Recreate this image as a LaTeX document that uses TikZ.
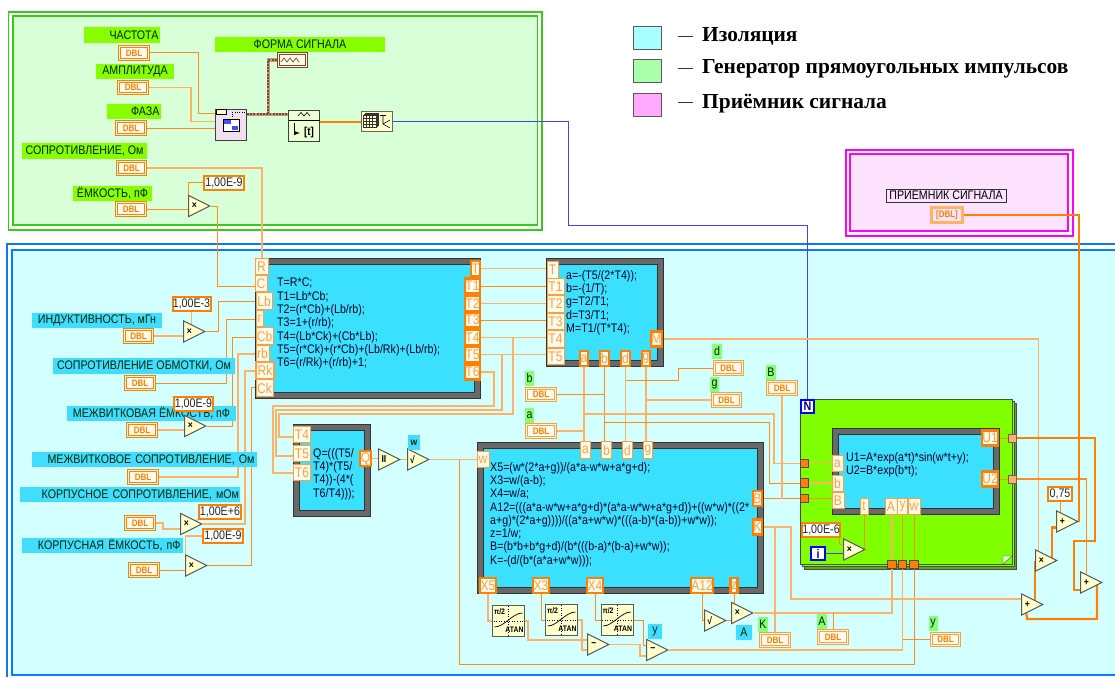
\documentclass[tikz,border=0pt]{standalone}
\usepackage{fontspec}
\setmainfont[FakeStretch=0.86]{Liberation Sans}
\newfontfamily\legfont{Liberation Serif}
\usetikzlibrary{backgrounds,calc,shapes.geometric}
\definecolor{wireor}{RGB}{255, 140, 30}
\definecolor{wirepale}{RGB}{255, 178, 102}
\definecolor{thickor}{RGB}{255, 128, 0}
\definecolor{bluepanel}{RGB}{212, 255, 255}
\definecolor{blueline}{RGB}{10, 120, 255}
\definecolor{greenpanel}{RGB}{216, 255, 216}
\definecolor{greenline}{RGB}{50, 205, 20}
\definecolor{pinkpanel}{RGB}{253, 226, 253}
\definecolor{pinkline}{RGB}{255, 0, 255}
\definecolor{lblgreen}{RGB}{136, 255, 0}
\definecolor{lblmint}{RGB}{136, 255, 119}
\definecolor{lblblue}{RGB}{64, 221, 255}
\definecolor{formblue}{RGB}{60, 224, 255}
\definecolor{framegrey}{RGB}{105, 105, 105}
\definecolor{loopgreen}{RGB}{128, 255, 0}
\definecolor{paleyel}{RGB}{255, 255, 204}
\definecolor{termfill}{RGB}{255, 250, 235}
\definecolor{wirebrown}{RGB}{130, 70, 35}
\definecolor{legiso}{RGB}{168, 255, 255}
\definecolor{leggen}{RGB}{170, 255, 170}
\definecolor{legrcv}{RGB}{255, 170, 255}
\newcommand{\lblsize}{\fontsize{12.4}{13.3}\selectfont}
\tikzset{
  wire/.style={draw=wireor, line width=1pt},
  wirel/.style={draw=wirepale, line width=1.2pt},
  wireb/.style={draw=thickor, line width=2.2pt},
  wireblue/.style={draw=blue!75!white, line width=1pt},
  wirebr/.style={preaction={draw=wirebrown!55!white, line width=3pt}, draw=wirebrown, line width=2pt, dash pattern=on 2pt off 1.2pt},
  lbl/.style={inner sep=0pt, minimum height=15.5pt, font=\lblsize, text=black!85!green},
  lbg/.style={lbl, fill=lblgreen},
  lbm/.style={lbl, fill=lblmint},
  lbb/.style={lbl, fill=lblblue},
  dbl/.style={draw=thickor, line width=1.2pt, double=termfill, double distance=1pt, fill=termfill,
    inner sep=0pt, minimum width=28.5pt, minimum height=12.5pt, text=thickor, font=\bfseries\fontsize{9.3}{9.3}\selectfont},
  dbll/.style={dbl, draw=wirepale!60!thickor, line width=0.9pt, double distance=1.4pt},
  const/.style={draw=thickor, line width=2pt, fill=white, inner sep=0pt, minimum height=14pt, font=\lblsize, text=black!85},
  term/.style={draw=wirepale!60!thickor, line width=1pt, fill=termfill, inner sep=0pt, minimum height=16.5pt,
    text=thickor!75!white, font=\fontsize{14}{14}\selectfont},
  termo/.style={term, draw=thickor, line width=2.2pt, minimum height=15pt},
  formula/.style={draw=black!80, line width=0.7pt, double=framegrey, double distance=5.5pt, fill=formblue, inner sep=0pt},
  ftext/.style={inner sep=0pt, anchor=north west, align=left, font=\lblsize, text=black!85!blue},
  tri/.style={draw=black!65, line width=1pt, fill=paleyel, isosceles triangle, isosceles triangle stretches,
    shape border rotate=0, minimum width=21pt, minimum height=21pt, inner sep=0pt, anchor=apex,
    font=\bfseries\fontsize{10}{10}\selectfont},
  tunnel/.style={draw=black!70, line width=0.6pt, fill=thickor, inner sep=0pt, minimum size=8.5pt},
  tunout/.style={draw=black!60, line width=0.8pt, fill=wirepale, inner sep=0pt, minimum size=8pt},
  loopt/.style={draw=blue, line width=1.6pt, fill=white, inner sep=0pt, minimum size=13.5pt, text=blue!60!black,
    font=\bfseries\fontsize{12.5}{12.5}\selectfont},
  atan/.style={draw=black!65, line width=1pt, fill=paleyel, inner sep=0pt, minimum width=32pt, minimum height=31pt},
  legsq/.style={draw=black!65, line width=1pt, inner sep=0pt, minimum width=28pt, minimum height=23pt},
  legt/.style={inner sep=0pt, anchor=west, font=\legfont\bfseries\fontsize{21.4}{21.4}\selectfont}
}
\begin{document}
\begin{tikzpicture}[x=1pt, y=-1pt]
  \useasboundingbox (0,0) rectangle (1115,677);
  % panels
  \begin{pgfonlayer}{background}
    \fill[white] (0,0) rectangle (1115,677);
    \draw[greenline, line width=1.3pt] (8.5,12) rectangle (542,230);
    \draw[greenline, line width=1.3pt, fill=greenpanel] (13,16) rectangle (537.5,225);
    \draw[pinkline, line width=1.3pt] (846,150) rectangle (1073,236);
    \draw[pinkline, line width=1.3pt, fill=pinkpanel] (850,154) rectangle (1068,231);
    \fill[bluepanel] (12,250) rectangle (1115,675);
    \draw[blueline, line width=1.3pt] (1115,244) -- (7,244) -- (7,677);
    \draw[blueline, line width=1.3pt] (1115,250) -- (12,250) -- (12,675) -- (1115,675);
    \draw[black!70, fill=loopgreen!70!black] (804,403) rectangle (1016,569);
    \draw[black!70, fill=loopgreen] (802,401) rectangle (1014,566.5);
    \draw[black!70, fill=loopgreen] (800,399) rectangle (1012,564);
    \draw[black!70, fill=greenpanel] (1003,564) -- (1012,556) -- (1003,556) -- cycle;
  \end{pgfonlayer}

  % legend
  \node[legsq, fill=legiso] (sqIso) at (647.5,38) {};
  \node[legsq, fill=leggen] (sqGen) at (647.5,71) {};
  \node[legsq, fill=legrcv] (sqRcv) at (647.5,104.5) {};
  \draw[black!80, line width=1pt] (sqIso.east -| 678,0) ++(0,-1) -- ++(15,0);
  \draw[black!80, line width=1pt] (sqGen.east -| 678,0) ++(0,-3) -- ++(15,0);
  \draw[black!80, line width=1pt] (sqRcv.east -| 678,0) ++(0,-2) -- ++(15,0);
  \node[legt] (ltIso) at (702,36) {Изоляция};
  \node[legt] (ltGen) at (702,69) {Генератор прямоугольных импульсов};
  \node[legt] (ltRcv) at (702,104) {Приёмник сигнала};

  % generator
  \node[lbg, minimum width=76pt, text width=73pt, align=right] (lgFreq) at (122,35) {ЧАСТОТА};
  \node[dbl] (dFreq) at (134,53) {DBL};
  \node[lbg, minimum width=78pt] (lgAmp) at (135,71.5) {АМПЛИТУДА};
  \node[dbl] (dAmp) at (133,87.5) {DBL};
  \node[lbg, minimum width=53.5pt, text width=51pt, align=right] (lgPh) at (134,111.5) {ФАЗА};
  \node[dbl] (dPhase) at (131,128) {DBL};
  \node[lbg, minimum width=125pt] (lgRes) at (84.5,151) {СОПРОТИВЛЕНИЕ, Ом};
  \node[dbl] (dRes) at (131.5,168) {DBL};
  \node[lbg, minimum width=79pt] (lgCap) at (112.5,193.5) {ЁМКОСТЬ, пФ};
  \node[dbl] (dCap) at (131,209) {DBL};
  \node[const, minimum width=40pt] (kC1) at (224,182.5) {1,00E-9};
  \node[tri] (trC) at (211,206) {×};
  \node[lbg, minimum width=170pt] (lgForm) at (300,44.5) {ФОРМА СИГНАЛА};
  \node[draw=wirebrown, line width=1pt, double=termfill, double distance=1pt, fill=termfill, inner sep=0pt,
    minimum width=28pt, minimum height=12.5pt] (wfm) at (292,60) {};
  \node[draw=black!75, line width=1pt, fill=violet!12!white, inner sep=0pt, minimum width=31pt, minimum height=31pt] (gen) at (231,125) {};
  \node[draw=black!75, line width=1pt, fill=greenpanel!50!paleyel, inner sep=0pt, minimum width=31pt, minimum height=31pt] (wa) at (304,126) {};
  \node[draw=black!60, line width=1pt, fill=paleyel, inner sep=0pt, minimum width=31pt, minimum height=20pt] (arr) at (377,121.5) {};
  % icons of the generator
  \draw[wirebrown, line width=0.7pt] (281,62) -- (284,58) -- (287,62) -- (290,58) -- (293,62) -- (296,58) -- (299,62);
  \draw[black, fill=paleyel, line width=0.7pt] (216,109.5) rectangle (226,114);
  \draw[black, dotted] (232,119) -- (232,112) -- (245,112);
  \draw[black, fill=white, line width=0.7pt] (223,119) rectangle (239,131);
  \fill[blue!70] (224,120) rectangle (231,124);
  \fill[blue!70] (232,126) rectangle (238,130);
  \draw[black, line width=0.6pt] (288.5,120) -- (319.5,120);
  \draw[black, line width=0.6pt] (298,116) -- (301,112.5) -- (304,116) -- (307,112.5) -- (310,116);
  \draw[black, line width=1pt, -latex] (294,123) -- (294,133) -- (300,133);
  \node[inner sep=0pt, font=\bfseries\fontsize{11.5}{11.5}\selectfont] (waT) at (309,133) {[t]};
  \draw[black!80, fill=paleyel, line width=0.5pt] (365,113) rectangle (378,125);
  \draw[black!80, fill=paleyel, line width=0.5pt] (364,114) rectangle (377,126);
  \draw[black!80, fill=paleyel, line width=0.5pt] (363,115) rectangle (376,127);
  \foreach \gx in {366,369,372} \draw[black!80, line width=0.4pt] (\gx,115) -- (\gx,127);
  \foreach \gy in {118,121,124} \draw[black!80, line width=0.4pt] (363,\gy) -- (376,\gy);
  \draw[black, line width=0.6pt] (383,115) -- (383,124) -- (390,128);
  \draw[black, line width=0.6pt] (380,115) -- (386,115);
  \draw[black, line width=0.6pt] (383,124) -- (390,120);

  % left side
  \node[lbb, minimum width=130pt] (lbInd) at (97,320.5) {ИНДУКТИВНОСТЬ, мГн};
  \node[dbl] (dInd) at (138.5,336) {DBL};
  \node[const, minimum width=38pt] (kLb) at (191.5,303.5) {1,00E-3};
  \node[tri] (trLb) at (206,331.5) {×};
  \node[lbb, minimum width=182pt] (lbWind) at (144,366) {СОПРОТИВЛЕНИЕ ОБМОТКИ, Ом};
  \node[dbl] (dWind) at (140,383) {DBL};
  \node[lbb, minimum width=169pt] (lbTurn) at (151.5,413.5) {МЕЖВИТКОВАЯ ЁМКОСТЬ, пФ};
  \node[const, minimum width=39pt] (kCb) at (193.5,404) {1,00E-9};
  \node[dbl] (dTurn) at (142,430) {DBL};
  \node[tri] (trCb) at (207,426) {×};
  \node[lbb, minimum width=225pt, text width=220pt, align=right] (lbTR) at (144.5,459.5) {МЕЖВИТКОВОЕ СОПРОТИВЛЕНИЕ, Ом};
  \node[dbl] (dTR) at (143,477) {DBL};
  \node[lbb, minimum width=220pt, text width=218pt, align=right] (lbKR) at (130,494.5) {КОРПУСНОЕ СОПРОТИВЛЕНИЕ, мОм};
  \node[const, minimum width=42pt] (kRk) at (220,511.5) {1,00E+6};
  \node[dbl] (dKR) at (140,523) {DBL};
  \node[tri] (trRk) at (203,524) {×};
  \node[lbb, minimum width=161pt, text width=156pt, align=right] (lbKC) at (102.5,545.5) {КОРПУСНАЯ ЁМКОСТЬ, пФ};
  \node[const, minimum width=40pt] (kCk) at (223,536) {1,00E-9};
  \node[dbl] (dKC) at (144,570) {DBL};
  \node[tri] (trCk) at (208,565.5) {×};

  % formula T
  \node[formula, minimum width=219pt, minimum height=134pt] (fT) at (368,328.5) {};
  \node[ftext] (txT) at (277,278) {T=R*C;\\T1=Lb*Cb;\\T2=(r*Cb)+(Lb/rb);\\T3=1+(r/rb);\\T4=(Lb*Ck)+(Cb*Lb);\\T5=(r*Ck)+(r*Cb)+(Lb/Rk)+(Lb/rb);\\T6=(r/Rk)+(r/rb)+1;};
  \node[term, minimum width=13pt] (iR) at (261.5,266.5) {R};
  \node[term, minimum width=12pt] (iC) at (261,283.5) {C};
  \node[term, minimum width=16pt] (iLb) at (264,301) {Lb};
  \node[term, minimum width=7pt] (ir) at (259.5,318.5) {r};
  \node[term, minimum width=17pt] (iCb) at (264.5,336) {Cb};
  \node[term, minimum width=13pt] (irb) at (262.5,353.5) {rb};
  \node[term, minimum width=18pt, line width=1.6pt] (iRk) at (265,370.5) {Rk};
  \node[term, minimum width=17pt] (iCk) at (264.5,388) {Ck};
  \node[termo, minimum width=9pt] (oT) at (475.5,268.5) {T};
  \node[termo, minimum width=15pt] (oT1) at (472.5,286) {T1};
  \node[termo, minimum width=15pt] (oT2) at (472.5,303.5) {T2};
  \node[termo, minimum width=15pt] (oT3) at (472.5,320) {T3};
  \node[termo, minimum width=15pt] (oT4) at (472.5,337.5) {T4};
  \node[termo, minimum width=15pt] (oT5) at (472.5,354.5) {T5};
  \node[termo, minimum width=15pt] (oT6) at (472.5,372) {T6};

  % formula a b g d M
  \node[formula, minimum width=111pt, minimum height=102pt] (fA) at (605,312.5) {};
  \node[ftext] (txA) at (566,270) {a=-(T5/(2*T4));\\b=-(1/T);\\g=T2/T1;\\d=T3/T1;\\M=T1/(T*T4);};
  \node[term, minimum width=11pt] (iT) at (552.5,270) {T};
  \node[term, minimum width=17pt] (iT1) at (555.5,286.5) {T1};
  \node[term, minimum width=17pt] (iT2) at (555.5,304) {T2};
  \node[term, minimum width=17pt] (iT3) at (555.5,321.5) {T3};
  \node[term, minimum width=17pt] (iT4) at (555.5,339) {T4};
  \node[term, minimum width=17pt] (iT5) at (555.5,356.5) {T5};
  \node[termo, minimum width=11pt] (oM) at (656.5,339) {M};
  \node[termo, minimum width=8.5pt] (oa) at (584,358.5) {a};
  \node[termo, minimum width=8.5pt] (ob) at (604.5,358.5) {b};
  \node[termo, minimum width=8.5pt] (od) at (625.5,358.5) {d};
  \node[termo, minimum width=8.5pt] (og) at (646,358.5) {g};

  % formula Q
  \node[formula, minimum width=71pt, minimum height=86pt] (fQ) at (332,470.5) {};
  \node[ftext] (txQ) at (313,448) {Q=(((T5/\\T4)*(T5/\\T4))-(4*(\\T6/T4)));};
  \node[term, minimum width=17pt] (qT4) at (302,434.5) {T4};
  \node[term, minimum width=17pt] (qT5) at (302,453.5) {T5};
  \node[term, minimum width=17pt] (qT6) at (302,472.5) {T6};
  \node[termo, minimum width=11pt] (oQ) at (365.5,458.5) {Q};
  \node[tri] (trPar) at (401,459.5) {II};
  \node[tri] (trRt) at (430,459.5) {√};
  \node[lbb, minimum width=12pt, font=\bfseries\fontsize{10}{10}\selectfont] (lbw) at (414,442.5) {w};

  % formula X
  \node[formula, minimum width=280pt, minimum height=145pt] (fX) at (620.5,518) {};
  \node[ftext] (txX) at (490,462) {X5=(w*(2*a+g))/(a*a-w*w+a*g+d);\\X3=w/(a-b);\\X4=w/a;\\A12=(((a*a-w*w+a*g+d)*(a*a-w*w+a*g+d))+((w*w)*((2*\\a+g)*(2*a+g))))/((a*a+w*w)*(((a-b)*(a-b))+w*w));\\z=1/w;\\B=(b*b+b*g+d)/(b*(((b-a)*(b-a)+w*w));\\K=-(d/(b*(a*a+w*w)));};
  \node[term, minimum width=12pt] (iw) at (483,459.5) {w};
  \node[term, minimum width=10pt] (ia) at (585.5,450) {a};
  \node[term, minimum width=10pt] (ib) at (606.5,450) {b};
  \node[term, minimum width=10pt] (id) at (627.5,450) {d};
  \node[term, minimum width=9pt] (ig) at (648,450) {g};
  \node[termo, minimum width=9pt] (oB) at (757.5,498.5) {B};
  \node[termo, minimum width=9pt] (oK) at (757.5,527) {K};
  \node[termo, minimum width=16pt] (oX5) at (488,585.5) {X5};
  \node[termo, minimum width=16pt] (oX3) at (541,585.5) {X3};
  \node[termo, minimum width=16pt] (oX4) at (595,585.5) {X4};
  \node[termo, minimum width=22pt] (oA12) at (702,585.5) {A12};
  \node[termo, minimum width=7pt] (oz) at (734,585.5) {z};

  % constants and indicators around the formulas
  \node[lbm, minimum width=9pt] (lgb) at (529.5,378.5) {b};
  \node[dbll] (db) at (541,394.5) {DBL};
  \node[lbm, minimum width=9pt] (lga) at (529.5,415.5) {a};
  \node[dbll] (da) at (541,431) {DBL};
  \node[lbm, minimum width=10pt] (lgd) at (717,351.5) {d};
  \node[dbll] (dd) at (728.5,368) {DBL};
  \node[lbm, minimum width=9pt] (lgg) at (714.5,384.5) {g};
  \node[dbll] (dg) at (726.5,400) {DBL};
  \node[lbm, minimum width=10pt] (lgB) at (771,372.5) {B};
  \node[dbll] (dB) at (782,388) {DBL};
  \node[lbm, minimum width=10pt] (lgK) at (763,624.5) {K};
  \node[dbll] (dK) at (775,640) {DBL};
  \node[lbm, minimum width=10pt] (lgA) at (822,621.5) {A};
  \node[dbll] (dA) at (833,637) {DBL};
  \node[lbm, minimum width=9pt] (lgY) at (933,623.5) {y};
  \node[dbll] (dy) at (945.5,639.5) {DBL};
  \node[lbb, minimum width=14pt] (lby) at (655,631.5) {y};
  \node[lbb, minimum width=16pt] (lbA) at (744,632.5) {A};

  % bottom blocks
  \foreach \n/\ax/\ay in {at1/508.5/621, at2/561.5/620, at3/617/620}{
    \node[atan] (\n) at (\ax,\ay) {};
    \begin{scope}[shift={(\ax,\ay)}]
      \draw[black, dotted, line width=0.6pt] (-15,0) -- (15,0);
      \draw[black, dotted, line width=0.6pt] (0,-15) -- (0,15);
      \draw[black, line width=0.7pt] (-14,6) .. controls (-4,6) and (4,-8) .. (14,-8);
      \node[inner sep=0pt, font=\bfseries\fontsize{8}{8}\selectfont] at (-9,-9) {π/2};
      \node[inner sep=0pt, font=\bfseries\fontsize{8}{8}\selectfont] at (6,9) {ATAN};
    \end{scope}
  }
  \node[tri] (trMinA) at (610,644.5) {−};
  \node[tri] (trMinB) at (669,650) {−};
  \node[tri] (trSq) at (727,620.5) {√};
  \node[tri] (trZ) at (754,613) {×};

  % loop
  \node[loopt] (tN) at (807.5,406.5) {N};
  \node[loopt] (tI) at (818,553.5) {i};
  \node[const, minimum width=38pt] (kT) at (821,530) {1,00E-6};
  \node[tri] (trT) at (866,549.5) {×};
  \node[formula, minimum width=161pt, minimum height=80pt] (fU) at (916,471.5) {};
  \node[ftext] (txU) at (846,452) {U1=A*exp(a*t)*sin(w*t+y);\\U2=B*exp(b*t);};
  \node[term, minimum width=11pt] (ua) at (837.5,463.5) {a};
  \node[term, minimum width=11pt] (ub) at (837.5,483.5) {b};
  \node[term, minimum width=12pt] (uB) at (838,500.5) {B};
  \node[term, minimum width=8pt] (ut) at (864,506.5) {t};
  \node[term, minimum width=12pt] (uA) at (891,506.5) {A};
  \node[term, minimum width=10pt] (uy) at (902.5,506.5) {y};
  \node[term, minimum width=12pt] (uw) at (914,506.5) {w};
  \node[termo, minimum width=16pt] (oU1) at (990,438) {U1};
  \node[termo, minimum width=16pt] (oU2) at (990,479) {U2};
  \node[tunnel] (tunIa) at (804.5,463.5) {};
  \node[tunnel] (tunIb) at (804.5,483) {};
  \node[tunnel] (tunIB) at (804.5,498.5) {};
  \node[tunnel] (tunA) at (892,564.5) {};
  \node[tunnel] (tunY) at (902.5,564.5) {};
  \node[tunnel] (tunW) at (914,564.5) {};
  \node[tunout] (tunU1) at (1012,438) {};
  \node[tunout] (tunU2) at (1012,479) {};

  % right side
  \node[const, minimum width=24pt] (k75) at (1060,494) {0,75};
  \node[tri] (trPl1) at (1044,604.5) {+};
  \node[tri] (trMul) at (1058,560.5) {×};
  \node[tri] (trPl2) at (1079,521.5) {+};
  \node[tri] (trPl3) at (1103,582.5) {+};
  \node[draw=black!80, line width=0.8pt, fill=pinkpanel, inner sep=0pt, minimum width=120pt, minimum height=13pt, font=\lblsize] (lbRcv) at (946,195.5) {ПРИЕМНИК СИГНАЛА};
  \node[dbl, draw=wirepale, line width=1.1pt, double=pinkpanel, double distance=0pt, fill=pinkpanel, minimum width=31pt, minimum height=15pt] (dRcv) at (947,215) {[DBL]};

  \coordinate (jW) at (459,459.5);
  \coordinate (jBr) at (268,114);

  % wires
  \begin{pgfonlayer}{background}
    \draw[wire] (dFreq.east) -| (198,113) -- (gen.west |- 0,113);
    \draw[wirel] (dAmp.east) -| (191,121.5) -- (gen.west |- 0,121.5);
    \draw[wire] (dPhase.east) -- (gen.west |- dPhase.east);
    \draw[wirebr] (gen.east |- 0,114) -- (wa.west |- 0,114);
    \draw[wirebr] (jBr) |- (wfm.west);
    \draw[wireb] (wa.east |- 0,122) -- (arr.west |- 0,122);
    \draw[wireblue] (arr.east |- 0,121) -| (568,225) -| (tN.north);
    \draw[wirel] (dRes.east) -| (iR.north -| 262,0);
    \draw[wire] (dCap.east) -- (trC.west |- dCap.east);
    \draw[wire] (kC1.west) -| (trC.west);
    \draw[wire] (trC.apex) -| (217,286) -- (iC.west |- 0,286);

    \draw[wirel] (dInd.east) -- (trLb.west |- dInd.east);
    \draw[wirel] (kLb) -- (kLb |- trLb);
    \draw[wire] (trLb.apex) -| (218,301) -- (iLb.west);
    \draw[wire] (dWind.east) -| (226,319) -- (ir.west |- 0,319);
    \draw[wirel] (dTurn.east) -- (trCb.west |- dTurn.east);
    \draw[wirel] (kCb) -- (trCb);
    \draw[wire] (trCb.apex) -| (232,337) -- (iCb.west |- 0,337);
    \draw[wirel] (dTR.east) -| (238,354) -- (irb.west |- 0,354);
    \draw[wirel] (dKR.east) -- (163,523) -- (163,529) -- (trRk.west |- 0,529);
    \draw[wirel] (kRk) -- (trRk);
    \draw[wirel] (trRk.apex) -| (245,371) -- (iRk.west |- 0,371);
    \draw[wire] (dKC.east) -- (trCk.west |- dKC.east);
    \draw[wirel] (kCk.west) -| (trCk.west);
    \draw[wire] (trCk.apex) -| (251,387) -- (iCk.west |- 0,387);

    \draw[wirel] (oT.east) -- (iT.west |- oT.east);
    \draw[wire] (oT1.east) -- (iT1.west |- oT1.east);
    \draw[wirel] (oT2.east) -- (iT2.west |- oT2.east);
    \draw[wire] (oT3.east) -- (iT3.west |- oT3.east);
    \draw[wirel] (oT4.east) -- (iT4.west |- oT4.east);
    \draw[wirel] (oT5.east) -- (iT5.west |- oT5.east);
    \draw[wirel] (oT4.east) -| (513,414) -- (279,414) |- (qT4.west |- 0,437);
    \draw[wirel] (oT5.east) -| (502,410) -- (276,410) |- (qT5.west |- 0,456);
    \draw[wirel] (oT6.east) -| (494,406) -- (273,406) |- (qT6.west |- 0,473);
    \draw[wirel] (oQ.east) -- (trPar.west |- oQ.east);
    \draw[wirel] (trPar.apex) -- (trRt.west |- trPar.apex);
    \draw[wirel] (trRt.apex) -- (iw.west);
    \draw[wire] (jW) -- (459,664) -| (tunW.south);

    \draw[wirel] (oa.south) -- (oa.south |- ia.north);
    \draw[wire] (ob.south) -- (ob.south |- ib.north);
    \draw[wirel] (od.south) -- (od.south |- id.north);
    \draw[wirel] (og.south) -- (og.south |- ig.north);
    \draw[wirel] (da.east) -- (oa.south |- da.east);
    \draw[wire] (db.east) -- (ob.south |- db.east);
    \draw[wire] (dd.west) -| (678,380) -- (od.south |- 0,380);
    \draw[wirel] (dg.west) -- (og.south |- dg.west);
    \draw[wirel] (oa.south |- 0,414) -- (774,414) -- (774,463.5) -- (tunIa.west);
    \draw[wire] (ob.south |- 0,422) -- (769.5,422) -- (769.5,483) -- (tunIb.west);
    \draw[wirel] (tunIa.east) -- (ua.west |- tunIa.east);
    \draw[wirel] (tunIb.east) -- (ub.west |- tunIb.east);
    \draw[wire] (tunIB.east) -- (uB.west |- tunIB.east);
    \draw[wire] (oB.east) -- (tunIB.west);
    \draw[wirel] (dB.south) -- (dB.south |- oB.east);
    \draw[wirel] (oK.east) -| (791,599) -- (trPl1.west |- 0,599);
    \draw[wirel] (dK.north |- oK.east) -- (dK.north);
    \draw[wirel] (oM.east) -| ($(trMul.west)+(3,0)$);

    \draw[wirel] (oX5.south) |- (at1.west);
    \draw[wire] (oX3.south) |- (at2.west);
    \draw[wire] (oX4.south) |- (at3.west);
    \draw[wirel] (at1.east) -| (528,640) -- (trMinA.west |- 0,640);
    \draw[wirel] (at2.east) -| (582,650) -- (trMinA.west |- 0,650);
    \draw[wirel] (trMinA.apex) -| (640,656) -- (trMinB.west |- 0,656);
    \draw[wire] (at3.east) -| (643,645) -- (trMinB.west |- 0,645);
    \draw[wire] (oA12.south) |- (trSq.west);
    \draw[wire] (trSq.apex) -- (trZ.west |- trSq.apex);
    \draw[wire] (oz.south) -- (oz.south |- trZ.west);

    \draw[wirel] (trZ.apex) -| (tunA.south);
    \draw[wire] (dA.north) -- (dA.north |- trZ.apex);
    \draw[wirel] (trMinB.apex) -| (tunY.south);
    \draw[wire] (dy.west) -- (tunY.south |- dy.west);
    \draw[wirel] (tunA.north) -- (tunA.north |- uA.south);
    \draw[wire] (tunY.north) -- (uy.south);
    \draw[wire] (tunW.north) -- (uw.south);
    \draw[wire] (ut.south) |- (trT.apex);
    \draw[wire] ($(kT.south)+(18,0)$) |- (trT.west |- 0,544);
    \draw[wireblue] (tI.east) -- (trT.west |- tI.east);

    \draw[wire] (oU1.east) -- (tunU1.west);
    \draw[wire] (oU2.east) -- (tunU2.west);
    \draw[wireb] (tunU1.east) -- (1095,438) -- (1095,541) -- (1074,541) -- (1074,590) -- (trPl3.west |- 0,590);
    \draw[wireor, line width=1.5pt] (tunU2.east) -| (trPl3);
    \draw[wireb] ($(trPl3.apex)+(-6,0)$) -- (1097,619) -- (1027,619) -- ($(trPl1.west)+(4,0)$);
    \draw[wireb] (trMul.west) -- (trMul.west |- trPl1);
    \draw[wireb] ($(trMul.apex)+(-6,0)$) |- ($(trPl2.west)+(0,6)$);
    \draw[wire] (k75) -- (k75 |- trPl2);
    \draw[wireb] (dRcv.east) -| (trPl2.apex);
  \end{pgfonlayer}
\end{tikzpicture}
\end{document}
